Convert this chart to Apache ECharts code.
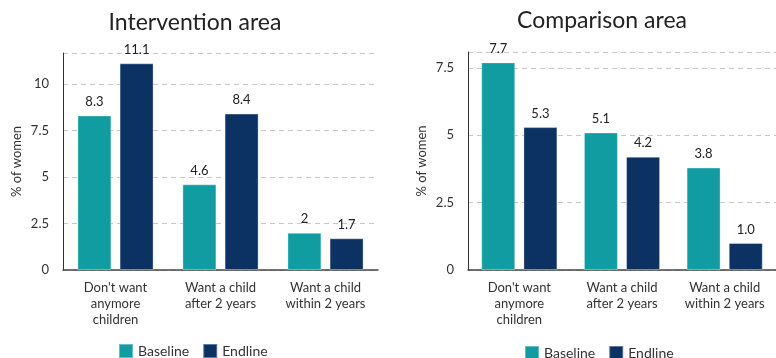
<!DOCTYPE html>
<html><head><meta charset="utf-8">
<script src="https://cdn.jsdelivr.net/npm/echarts@6/dist/echarts.min.js"></script>
<style>html,body{margin:0;padding:0;background:#fff}#c{width:776px;height:358px}</style>
</head><body><div id="c"></div>
<script>
const categories = ["Don't want\nanymore\nchildren", "Want a child\nafter 2 years", "Want a child\nwithin 2 years"];
const interventionBaseline = [8.3, 4.6, 2];
const interventionEndline = [11.1, 8.4, 1.7];
const comparisonBaseline = [7.7, 5.1, 3.8];
const comparisonEndline = [5.3, 4.2, 1.0];
const interventionTicks = [0, 2.5, 5, 7.5, 10];
const comparisonTicks = [0, 2.5, 5, 7.5];
const titles = ['Intervention area', 'Comparison area'];
const seriesNames = ['Baseline', 'Endline'];

const TEAL = '#109ca0', NAVY = '#0b3262';
const FONT = 'Lato';
const chart = echarts.init(document.getElementById('c'), null, {renderer: 'canvas'});

function yAxis(gi, max, ticks) {
  return {
    type: 'value', gridIndex: gi, min: 0, max: max, interval: 2.5,
    name: '% of women', nameLocation: 'middle', nameGap: 40,
    nameTextStyle: {fontFamily: FONT, fontSize: 13, color: '#333'},
    axisLine: {show: true, lineStyle: {color: '#333', width: 1}},
    axisTick: {show: false},
    axisLabel: {fontFamily: FONT, fontSize: 13, color: '#333', margin: 14,
      formatter: v => ticks.includes(v) ? String(v) : ''},
    splitLine: {show: true, lineStyle: {color: '#c8c8c8', type: [5, 4]}}
  };
}
function xAxis(gi) {
  return {
    type: 'category', gridIndex: gi, data: categories,
    axisLine: {lineStyle: {color: '#444', width: 1.5}},
    axisTick: {show: false},
    axisLabel: {interval: 0, fontFamily: FONT, fontSize: 13, color: '#333', lineHeight: 16, margin: 10}
  };
}
function bar(name, gi, data, color, fixed) {
  return {
    name: name, type: 'bar', xAxisIndex: gi, yAxisIndex: gi, data: data,
    barWidth: 34, barGap: '24%',
    itemStyle: {color: color, borderColor: 'rgba(255,255,255,0.35)', borderWidth: 1},
    label: {show: true, position: 'top', distance: 7, fontFamily: FONT, fontSize: 13, color: '#222',
      formatter: p => fixed ? p.value.toFixed(1) : String(p.value)}
  };
}
const legendBase = {
  data: seriesNames, itemWidth: 14, itemHeight: 14, itemGap: 13, icon: 'rect',
  textStyle: {fontFamily: FONT, fontSize: 14, color: '#333'}
};
chart.setOption({
  animation: false,
  color: [TEAL, NAVY],
  title: [
    {text: titles[0], left: 190, top: 6, textAlign: 'center', textStyle: {fontFamily: FONT, fontSize: 23, fontWeight: 'normal', color: '#222'}},
    {text: titles[1], left: 597, top: 4, textAlign: 'center', textStyle: {fontFamily: FONT, fontSize: 23, fontWeight: 'normal', color: '#222'}}
  ],
  legend: [
    Object.assign({}, legendBase, {left: 113, top: 338}),
    Object.assign({}, legendBase, {left: 519, top: 340})
  ],
  grid: [
    {left: 63, right: 398, top: 53, bottom: 88},
    {left: 468, right: 0, top: 52, bottom: 88}
  ],
  xAxis: [xAxis(0), xAxis(1)],
  yAxis: [yAxis(0, 11.1 * 1.05, interventionTicks), yAxis(1, 7.7 * 1.05, comparisonTicks)],
  series: [
    bar(seriesNames[0], 0, interventionBaseline, TEAL, false),
    bar(seriesNames[1], 0, interventionEndline, NAVY, false),
    bar(seriesNames[0], 1, comparisonBaseline, TEAL, true),
    bar(seriesNames[1], 1, comparisonEndline, NAVY, true)
  ]
});
</script></body></html>
